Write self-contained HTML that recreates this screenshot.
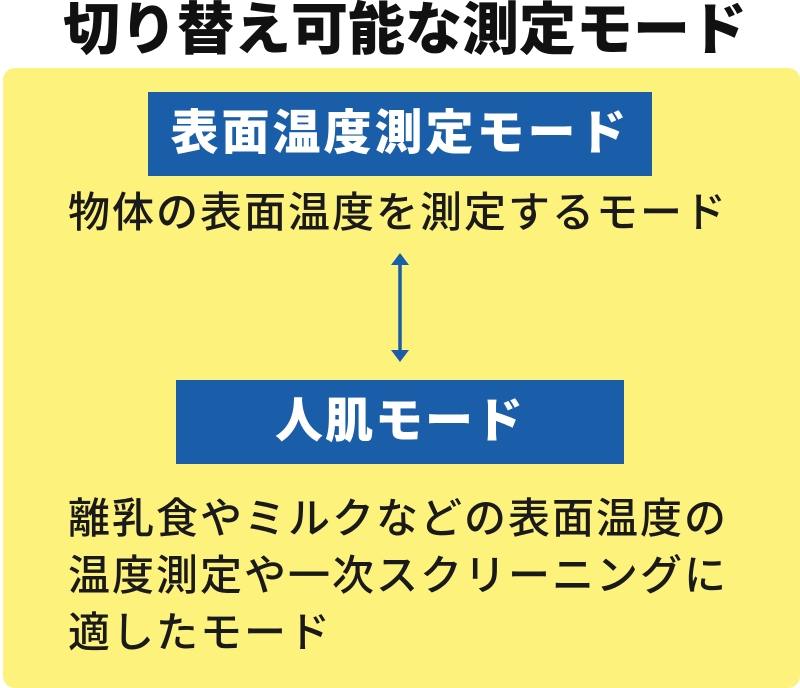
<!DOCTYPE html>
<html><head><meta charset="utf-8"><style>
html,body{margin:0;padding:0;background:#fff;}
body{width:800px;height:680px;position:relative;overflow:hidden;font-family:"Liberation Sans","Noto Sans CJK JP",sans-serif;}
.a{position:absolute;white-space:nowrap;}
#title{left:0;width:810px;text-align:center;top:-3px;font-size:57px;font-weight:900;color:#111;letter-spacing:0px;line-height:66px;}
#bg{left:3px;top:68px;width:797px;height:620px;background:#fcf27c;border-radius:12px;}
.box{background:#1a5ea9;color:#fff;font-weight:900;text-align:center;}
#b1{left:148px;top:92px;width:504px;height:84px;line-height:84px;font-size:48px;letter-spacing:3px;}
#b2{left:176px;top:380px;width:448px;height:84px;line-height:84px;font-size:48px;letter-spacing:2px;}
.t{font-size:42px;color:#1a1a1a;font-weight:500;letter-spacing:2px;}
#l1{left:68px;top:188px;line-height:50px;}
#p{left:68px;top:490px;line-height:57px;}
</style></head><body>
<div class="a" id="title">切り替え可能な測定モード</div>
<div class="a" id="bg"></div>
<div class="a box" id="b1">表面温度測定モード</div>
<div class="a t" id="l1">物体の表面温度を測定するモード</div>
<svg class="a" style="left:380px;top:245px" width="40" height="125">
<line x1="20" y1="14" x2="20" y2="111" stroke="#1a5ea9" stroke-width="3.5"/>
<polygon points="20,8 11,20 29,20" fill="#1a5ea9"/>
<polygon points="20,117 11,105 29,105" fill="#1a5ea9"/>
</svg>
<div class="a box" id="b2">人肌モード</div>
<div class="a t" id="p">離乳食やミルクなどの表面温度の<br>温度測定や一次スクリーニングに<br>適したモード</div>
</body></html>
